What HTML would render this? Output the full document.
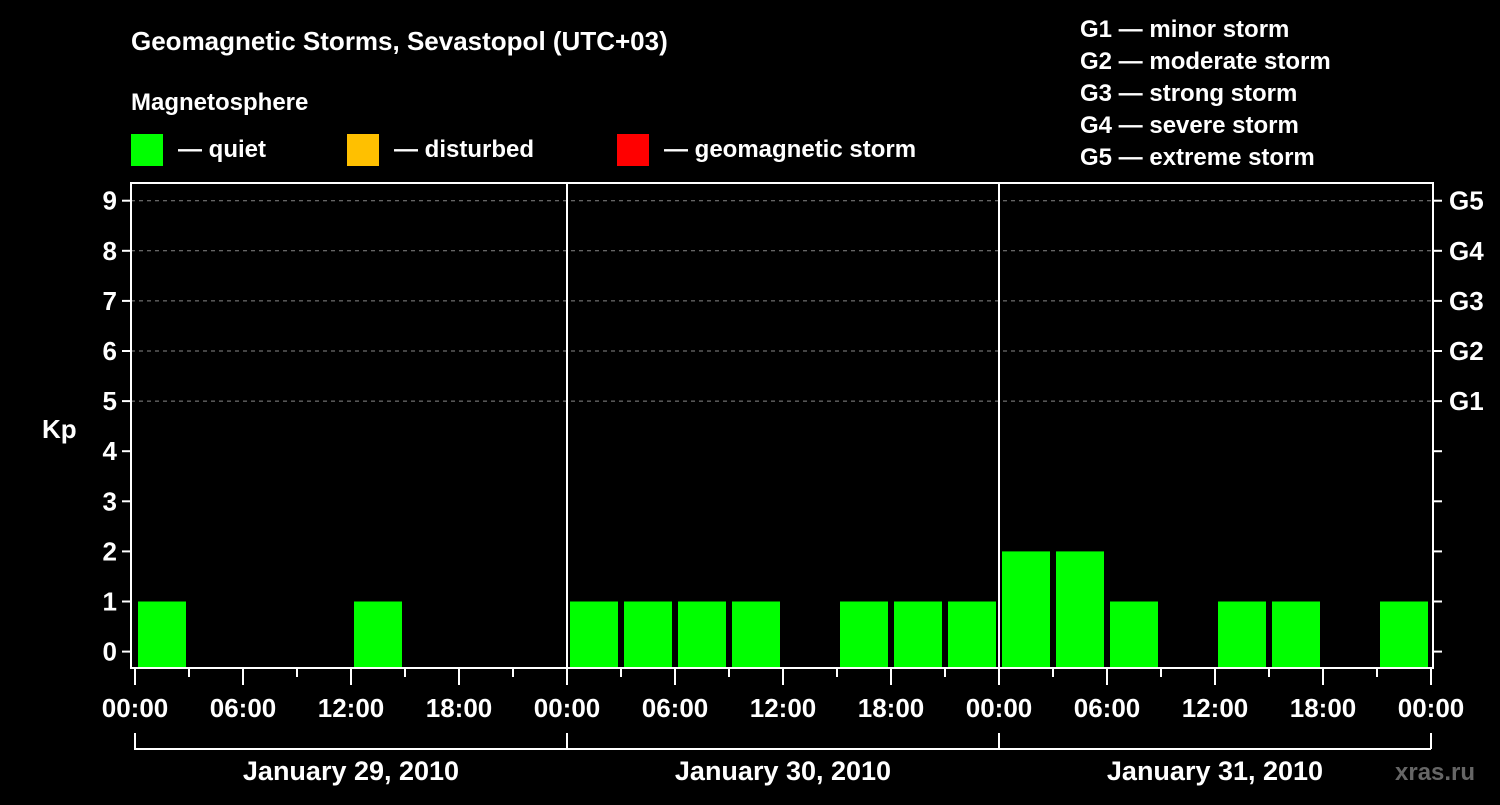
<!DOCTYPE html>
<html><head><meta charset="utf-8"><style>
body{margin:0;background:#000;width:1500px;height:800px;overflow:hidden}
text{font-family:"Liberation Sans",Arial,sans-serif;font-weight:bold;fill:#fff}
</style></head><body>
<svg id="c" width="1500" height="800">
<text x="131" y="50" font-size="26">Geomagnetic Storms, Sevastopol (UTC+03)</text>
<text x="131" y="110" font-size="24">Magnetosphere</text>
<g><rect x="131" y="134" width="32" height="32" fill="#00ff00"/><text x="178" y="157" font-size="24">— quiet</text></g>
<g><rect x="347" y="134" width="32" height="32" fill="#ffc000"/><text x="394" y="157" font-size="24">— disturbed</text></g>
<g><rect x="617" y="134" width="32" height="32" fill="#ff0000"/><text x="664" y="157" font-size="24">— geomagnetic storm</text></g>
<g font-size="24">
<text x="1080" y="37">G1 — minor storm</text><text x="1080" y="69">G2 — moderate storm</text><text x="1080" y="101">G3 — strong storm</text><text x="1080" y="133">G4 — severe storm</text><text x="1080" y="165">G5 — extreme storm</text></g>
<text x="42" y="438" font-size="26">Kp</text>
<text x="1395" y="780" font-size="24" fill="#666" style="fill:#666">xras.ru</text>
<g id="grid"></g><g id="bars"></g><g id="axes"></g>
</svg>
<script>
const days=["January 29, 2010","January 30, 2010","January 31, 2010"];
const kp=[1,0,0,0,1,0,0,0, 1,1,1,1,0,1,1,1, 2,2,1,0,1,1,0,1];
const yTicks=[0,1,2,3,4,5,6,7,8,9];
const gLabels=["G1","G2","G3","G4","G5"];
const xLabels=["00:00","06:00","12:00","18:00"];
const ns="http://www.w3.org/2000/svg";
const X0=135,SLOT=54,L=131,R=1433,T=183,B=668;
const y=v=>651.6-v*50.1;
const x=i=>X0+i*SLOT;
function mk(p,t,a){const e=document.createElementNS(ns,t);for(const k in a)e.setAttribute(k,a[k]);p.appendChild(e);return e;}
const grid=document.getElementById('grid'),bars=document.getElementById('bars'),ax=document.getElementById('axes');
yTicks.forEach(v=>{
 if(v>=5){const g=mk(grid,'line',{x1:L,x2:R,y1:y(v),y2:y(v),stroke:'#888','stroke-dasharray':'4 4','stroke-width':1});
 
 }
 mk(ax,'line',{x1:L-9,x2:L,y1:y(v),y2:y(v),stroke:'#fff','stroke-width':2});
 mk(ax,'line',{x1:R,x2:R+9,y1:y(v),y2:y(v),stroke:'#fff','stroke-width':2});
 const t=mk(ax,'text',{x:L-14,y:y(v)+9,'font-size':26,'text-anchor':'end'});t.textContent=v;
 
 
});
gLabels.forEach((g,i)=>{const t=mk(ax,'text',{x:1449,y:y(5+i)+9,'font-size':26});t.textContent=g;
 
 });
kp.forEach((v,i)=>{if(v<=0)return;
 const c=v>=5?'#ff0000':(v>=4?'#ffc000':'#00ff00');
 const r=mk(bars,'rect',{x:x(i)+3,y:y(v),width:48,height:667-y(v),fill:c});
 
 });
mk(ax,'rect',{x:L,y:T,width:R-L,height:B-T,fill:'none',stroke:'#fff','stroke-width':2});
for(let d=1;d<days.length;d++)mk(ax,'line',{x1:x(d*8),x2:x(d*8),y1:T,y2:B,stroke:'#fff','stroke-width':2});
for(let i=0;i<=days.length*8;i++){const maj=i%2==0;
 mk(ax,'line',{x1:x(i),x2:x(i),y1:B,y2:maj?685:677,stroke:'#fff','stroke-width':2});
 if(maj){const t=mk(ax,'text',{x:x(i),y:717,'font-size':26,'text-anchor':'middle'});t.textContent=xLabels[(i/2)%4];
 
 }}
days.forEach((d,k)=>{
 mk(ax,'path',{d:`M${x(k*8)},733V749H${x(k*8+8)}`,stroke:'#fff','stroke-width':2,fill:'none'});
 const t=mk(ax,'text',{x:x(k*8+4),y:780,'font-size':27,'text-anchor':'middle'});t.textContent=d;
 
 });
mk(ax,'line',{x1:x(24),x2:x(24),y1:733,y2:749,stroke:'#fff','stroke-width':2});
</script>
</body></html>
